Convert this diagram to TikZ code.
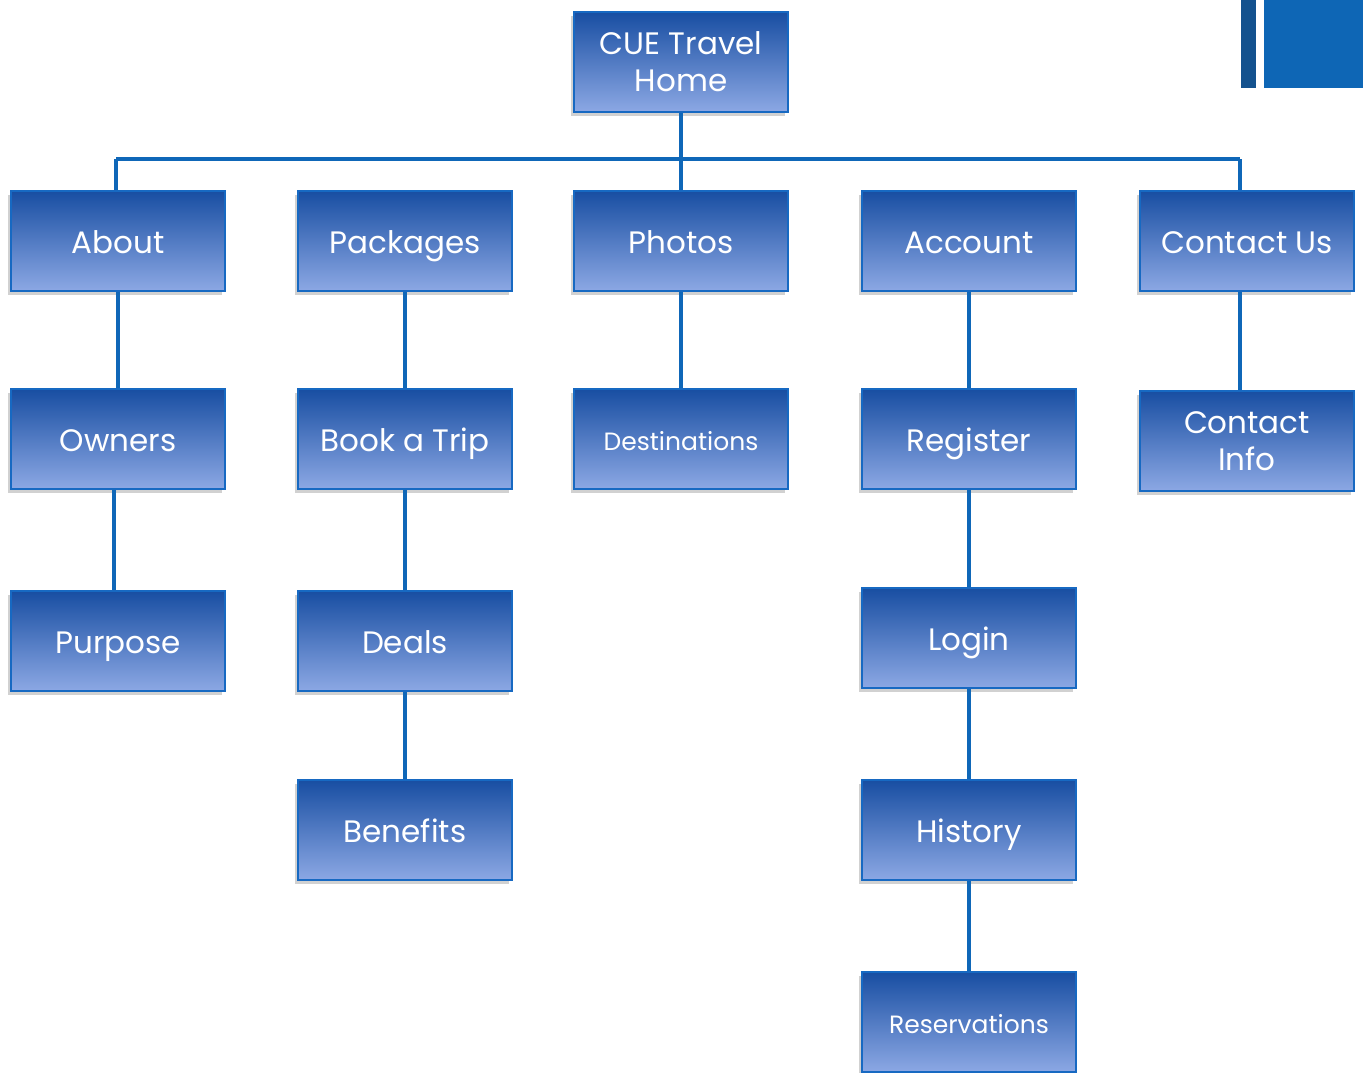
\documentclass[tikz,border=0pt]{standalone}
\usepackage{fontspec}
\setmainfont{Poppins}
\usetikzlibrary{shadows}
\definecolor{lineblue}{HTML}{0F67B8}
\definecolor{boxtop}{HTML}{184EA2}
\definecolor{boxbot}{HTML}{8CA8E4}
\definecolor{boxedge}{HTML}{1769C2}
\definecolor{barA}{HTML}{14528E}
\definecolor{barB}{HTML}{0E66B5}
\begin{document}
\begin{tikzpicture}[x=1pt,y=-1pt,
  pagebox/.style={draw=boxedge, line width=2.2pt, top color=boxtop, bottom color=boxbot,
    minimum width=214pt, minimum height=100pt, inner sep=2pt, text=white,
    font=\fontsize{31}{37}\selectfont, align=center,
    drop shadow={shadow xshift=-3pt, shadow yshift=-4pt, opacity=0.3, fill=black!60}},
  onelineA/.style={text height=25pt, text depth=0pt},
  smalltext/.style={font=\fontsize{25}{28}\selectfont, text height=22pt, text depth=0pt},
  link/.style={draw=lineblue, line width=4pt}]
\useasboundingbox (0,0) rectangle (1363,1072);
% top-right decoration
\fill[barA] (1241,0) rectangle (1256,88);
\fill[barB] (1264,0) rectangle (1363,88);
% nodes
\node[pagebox] (home) at (681,62) {CUE Travel\\Home};
\node[pagebox, onelineA] (about) at (118,241) {About};
\node[pagebox, onelineA] (pack) at (405,241) {Packages};
\node[pagebox, onelineA] (photos) at (681,241) {Photos};
\node[pagebox, onelineA] (account) at (969,241) {Account};
\node[pagebox, onelineA] (contact) at (1247,241) {Contact Us};
\node[pagebox, onelineA] (owners) at (118,439) {Owners};
\node[pagebox, onelineA] (book) at (405,439) {Book a Trip};
\node[pagebox, smalltext] (dest) at (681,439) {Destinations};
\node[pagebox, onelineA] (register) at (969,439) {Register};
\node[pagebox] (info) at (1247,441) {Contact\\Info};
\node[pagebox, onelineA] (purpose) at (118,641) {Purpose};
\node[pagebox, onelineA] (deals) at (405,641) {Deals};
\node[pagebox, onelineA] (login) at (969,638) {Login};
\node[pagebox, onelineA] (benefits) at (405,830) {Benefits};
\node[pagebox, onelineA] (history) at (969,830) {History};
\node[pagebox, smalltext] (reserv) at (969,1022) {Reservations};
% connectors
\coordinate (busL) at (116,159);
\coordinate (busR) at (1240,159);
\draw[link] (home.south) -- (photos.north);
\draw[link] (busL) -- (busR);
\draw[link] (busL) -- (busL |- about.north);
\draw[link] (busR) -- (busR |- contact.north);
\draw[link] (about.south) -- (owners.north);
\draw[link] (pack.south) -- (book.north);
\draw[link] (photos.south) -- (dest.north);
\draw[link] (account.south) -- (register.north);
\draw[link] ([xshift=-7pt]contact.south) -- ([xshift=-7pt]info.north);
\draw[link] ([xshift=-4pt]owners.south) -- ([xshift=-4pt]purpose.north);
\draw[link] (book.south) -- (deals.north);
\draw[link] (register.south) -- (login.north);
\draw[link] (deals.south) -- (benefits.north);
\draw[link] (login.south) -- (history.north);
\draw[link] (history.south) -- (reserv.north);
\end{tikzpicture}
\end{document}
